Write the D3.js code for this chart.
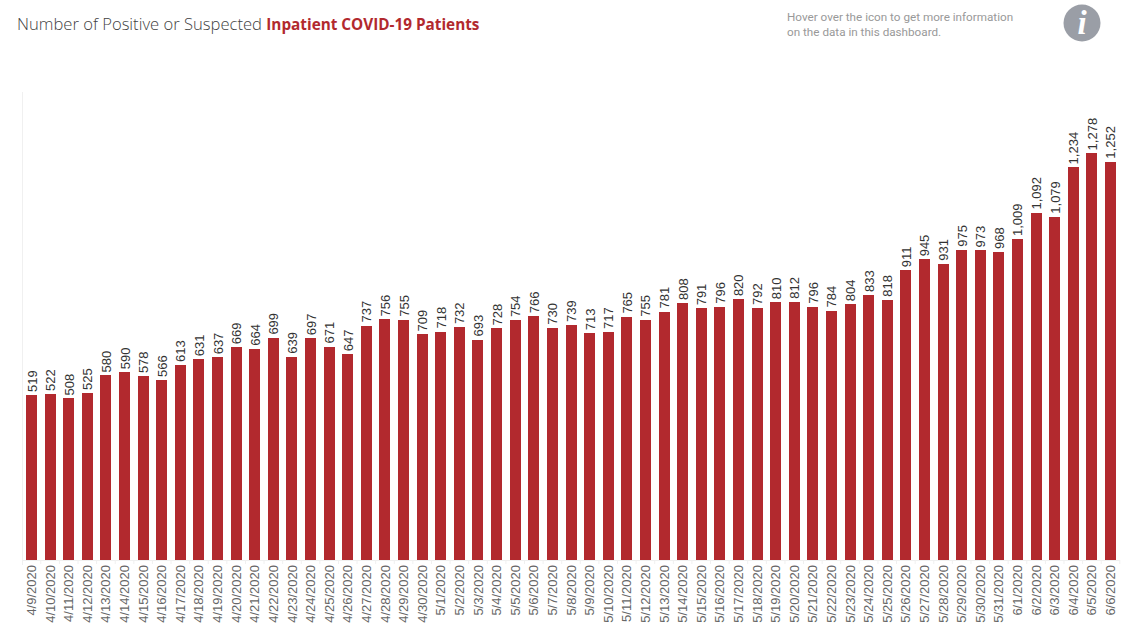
<!DOCTYPE html>
<html>
<head>
<meta charset="utf-8">
<script src="https://d3js.org/d3.v7.min.js"></script>
<style>
body { margin: 0; background: #fff; overflow: hidden; }
svg { display: block; }
.axis path, .axis line { stroke: #f0f0f0; }
.axis text { font-family: "Liberation Sans"; font-size: 13px; fill: #666; }
.value { font-family: "Liberation Sans"; font-size: 13px; fill: #333; }
</style>
</head>
<body>
<div id="vis"></div>
<script>
var dates = ["4/9/2020","4/10/2020","4/11/2020","4/12/2020","4/13/2020","4/14/2020","4/15/2020","4/16/2020","4/17/2020","4/18/2020",
  "4/19/2020","4/20/2020","4/21/2020","4/22/2020","4/23/2020","4/24/2020","4/25/2020","4/26/2020","4/27/2020","4/28/2020",
  "4/29/2020","4/30/2020","5/1/2020","5/2/2020","5/3/2020","5/4/2020","5/5/2020","5/6/2020","5/7/2020","5/8/2020",
  "5/9/2020","5/10/2020","5/11/2020","5/12/2020","5/13/2020","5/14/2020","5/15/2020","5/16/2020","5/17/2020","5/18/2020",
  "5/19/2020","5/20/2020","5/21/2020","5/22/2020","5/23/2020","5/24/2020","5/25/2020","5/26/2020","5/27/2020","5/28/2020",
  "5/29/2020","5/30/2020","5/31/2020","6/1/2020","6/2/2020","6/3/2020","6/4/2020","6/5/2020","6/6/2020"];
var patients = [519,522,508,525,580,590,578,566,613,631,
  637,669,664,699,639,697,671,647,737,756,
  755,709,718,732,693,728,754,766,730,739,
  713,717,765,755,781,808,791,796,820,792,
  810,812,796,784,804,833,818,911,945,931,
  975,973,968,1009,1092,1079,1234,1278,1252];

var w = 1128;
var h = 634;
var baseY = 560;
var topY = 92;

var svg = d3.select("#vis").append("svg").attr("width", w).attr("height", h);

var x = d3.scaleBand().domain(dates).range([22.2, 1119.8]).paddingInner(0.41).paddingOuter(0.205);
var y = d3.scaleLinear().domain([0, 1471]).range([baseY, topY]);

// left rule
svg.append("line").attr("x1", 22.5).attr("x2", 22.5).attr("y1", topY).attr("y2", baseY + 5)
  .attr("stroke", "#f0f0f0");

//bars
svg.selectAll("rect.bar")
  .data(patients)
  .enter()
  .append("rect")
  .attr("class", "bar")
  .attr("x", function(d, i) { return Math.round(x(dates[i])); })
  .attr("y", function(d) { return y(d); })
  .attr("width", 11)
  .attr("height", function(d) { return baseY - y(d); })
  .attr("fill", "#b2292e")
  .attr("shape-rendering", "crispEdges");

//value labels
svg.selectAll("text.value")
  .data(patients)
  .enter()
  .append("text")
  .attr("class", "value")
  .attr("transform", function(d, i) {
    return "translate(" + (x(dates[i]) + x.bandwidth() / 2 + 5) + "," + (y(d) - 3) + ") rotate(-90)";
  })
  .text(d3.format(","));

// x axis, ticks sit between the bars
var axis = svg.append("g").attr("class", "axis").attr("transform", "translate(0," + baseY + ")")
  .call(d3.axisBottom(x).tickSize(0));
axis.select("path").remove();
axis.selectAll("text")
  .attr("transform", "rotate(-90)")
  .attr("text-anchor", "end")
  .attr("x", -5)
  .attr("y", 0)
  .attr("dy", "0.35em");
axis.selectAll("line.sep")
  .data(dates)
  .enter()
  .append("line")
  .attr("class", "sep")
  .attr("x1", function(d) { return x(d) + x.step() + x.bandwidth() / 2 - x.step() / 2; })
  .attr("x2", function(d) { return x(d) + x.step() + x.bandwidth() / 2 - x.step() / 2; })
  .attr("y1", 0)
  .attr("y2", 4);
svg.append("line").attr("x1", 22.2).attr("x2", 1119.8).attr("y1", baseY + 0.5).attr("y2", baseY + 0.5)
  .attr("stroke", "#f0f0f0");

//title
var title = svg.append("text").attr("x", 17).attr("y", 30)
  .style("font-family", "'Open Sans'");
title.append("tspan").attr("fill", "#3f3f3f").style("font-weight", 300).style("font-size", "16.6px").text("Number of Positive or Suspected ");
title.append("tspan").attr("fill", "#b2292e").style("font-weight", 700).style("font-size", "15.3px").text("Inpatient COVID-19 Patients");

//hover note
var note = ["Hover over the icon to get more information", "on the data in this dashboard."];
svg.selectAll("text.note")
  .data(note)
  .enter()
  .append("text")
  .attr("class", "note")
  .attr("x", 787)
  .attr("y", function(d, i) { return 21 + i * 15; })
  .attr("fill", "#999")
  .style("font-family", "Roboto")
  .style("font-size", "11.7px")
  .text(function(d) { return d; });

//info icon
svg.append("circle").attr("cx", 1082).attr("cy", 23).attr("r", 18.5).attr("fill", "#9a9ea6");
svg.append("text").attr("x", 1082).attr("y", 34).attr("text-anchor", "middle")
  .attr("fill", "#fff")
  .style("font-family", "'Liberation Serif'").style("font-style", "italic").style("font-weight", 700).style("font-size", "33px")
  .text("i");
</script>
</body>
</html>
